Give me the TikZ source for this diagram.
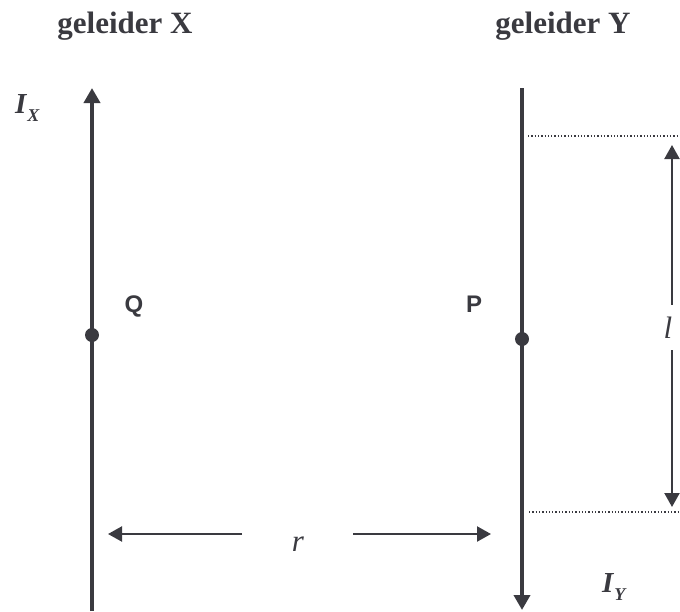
\documentclass[tikz,border=0pt]{standalone}
\usepackage{fontspec}
\setmainfont{Liberation Serif}
\setsansfont{Liberation Sans}
\usetikzlibrary{arrows.meta}

\definecolor{ink}{RGB}{58,58,64}
\newcommand{\curlab}[1]{\textbf{\textit{I}}\raisebox{-8pt}{\fontsize{18}{18}\selectfont\textbf{\textit{#1}}}}

\begin{document}
\begin{tikzpicture}[x=1pt, y=-1pt, color=ink,
    wire/.style={line width=4pt, -{Triangle[length=15pt, width=16pt]}},
    dimline/.style={line width=2.2pt, -{Triangle[length=14pt, width=15pt]}},
    guide/.style={line width=1.3pt, dotted},
    title/.style={font=\fontsize{31}{36}\selectfont\bfseries, anchor=base, inner sep=0pt},
    curlabel/.style={font=\fontsize{29}{34}\selectfont, anchor=base west, inner sep=0pt},
    pointlab/.style={font=\fontsize{24}{28}\selectfont\sffamily\bfseries},
    varlab/.style={font=\fontsize{31}{35}\selectfont\itshape}]
    \useasboundingbox (0,0) rectangle (680,611);

    % geleiders
    \coordinate (Xbot) at (92,611);
    \coordinate (Xtop) at (92,88);
    \coordinate (Ytop) at (522,88);
    \coordinate (Ybot) at (522,610);
    \draw[wire] (Xbot) -- (Xtop);
    \draw[wire] (Ytop) -- (Ybot);

    \node[title] (titleX) at (125,33) {geleider X};
    \node[title] (titleY) at (563,33) {geleider Y};
    \node[curlabel] (IX) at (15,113) {\curlab{X}};
    \node[curlabel] (IY) at (602,592) {\curlab{Y}};

    % punten Q en P
    \fill (92,335) circle (7pt) coordinate (Q);
    \fill (522,339) circle (7pt) coordinate (P);
    \node[pointlab] (lblQ) at (134,306) {Q};
    \node[pointlab] (lblP) at (474,304) {P};

    % lengte l
    \coordinate (gtopL) at (528,136);
    \coordinate (gtopR) at (678,136);
    \coordinate (gbotL) at (529,512);
    \coordinate (gbotR) at (678,512);
    \draw[guide] (gtopL) -- (gtopR);
    \draw[guide] (gbotL) -- (gbotR);
    \node[varlab, minimum height=45pt, inner sep=0pt] (lbll) at (672,327.5) {\hspace*{-8pt}l};
    \coordinate (ltip) at (672,145);
    \coordinate (lbot) at (672,507);
    \draw[dimline] (lbll.north) -- (ltip);
    \draw[dimline] (lbll.south) -- (lbot);

    % afstand r
    \coordinate (rgapL) at (242,534);
    \coordinate (rgapR) at (353,534);
    \coordinate (rtipL) at (108,534);
    \coordinate (rtipR) at (491,534);
    \draw[dimline] (rgapL) -- (rtipL);
    \draw[dimline] (rgapR) -- (rtipR);
    \node[varlab] (lblr) at (298,544) {r};
\end{tikzpicture}
\end{document}
